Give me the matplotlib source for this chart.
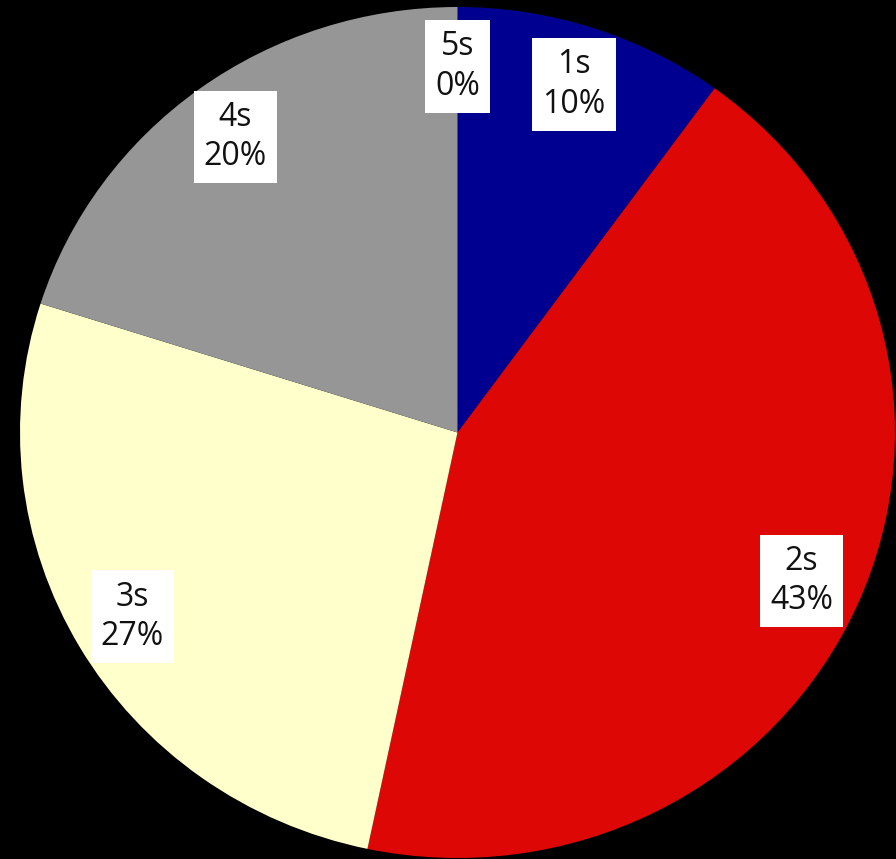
import matplotlib.pyplot as plt
import numpy as np

plt.rcParams['font.family'] = ['Open Sans', 'DejaVu Sans']

labels = ['1s', '2s', '3s', '4s', '5s']
values = [10.0, 43.3, 26.6, 20.1, 0.0]
colors = ['#000090', '#DD0806', '#FFFFCC', '#969696', '#FFFFFF']

fig = plt.figure(figsize=(8.96, 8.59), dpi=100, facecolor='black')
ax = fig.add_axes([0, 0, 1, 1])
ax.set_facecolor('black')

wedges, _ = ax.pie(values, colors=colors, startangle=90, counterclock=False,
                   wedgeprops=dict(linewidth=0))

# label boxes sit at the middle angle of each wedge
total = sum(values)
for w, lab, v in zip(wedges, labels, values):
    ang = np.deg2rad((w.theta1 + w.theta2) / 2)
    r = 0.86
    ax.text(r * np.cos(ang), r * np.sin(ang), f"{lab}\n{round(100 * v / total):.0f}%",
            ha='center', va='center', fontsize=23, color='#111111', linespacing=1.25,
            bbox=dict(boxstyle='square,pad=0.32', facecolor='white', edgecolor='none'))

# slightly stretched ellipse like the original
ax.set_aspect('auto')
ax.set_xlim(-457.5 / 437.5, (896 - 457.5) / 437.5)
ax.set_ylim(-(859 - 432.5) / 425.5, 432.5 / 425.5)
ax.axis('off')

fig.savefig('out.png', dpi=100, facecolor='black')
